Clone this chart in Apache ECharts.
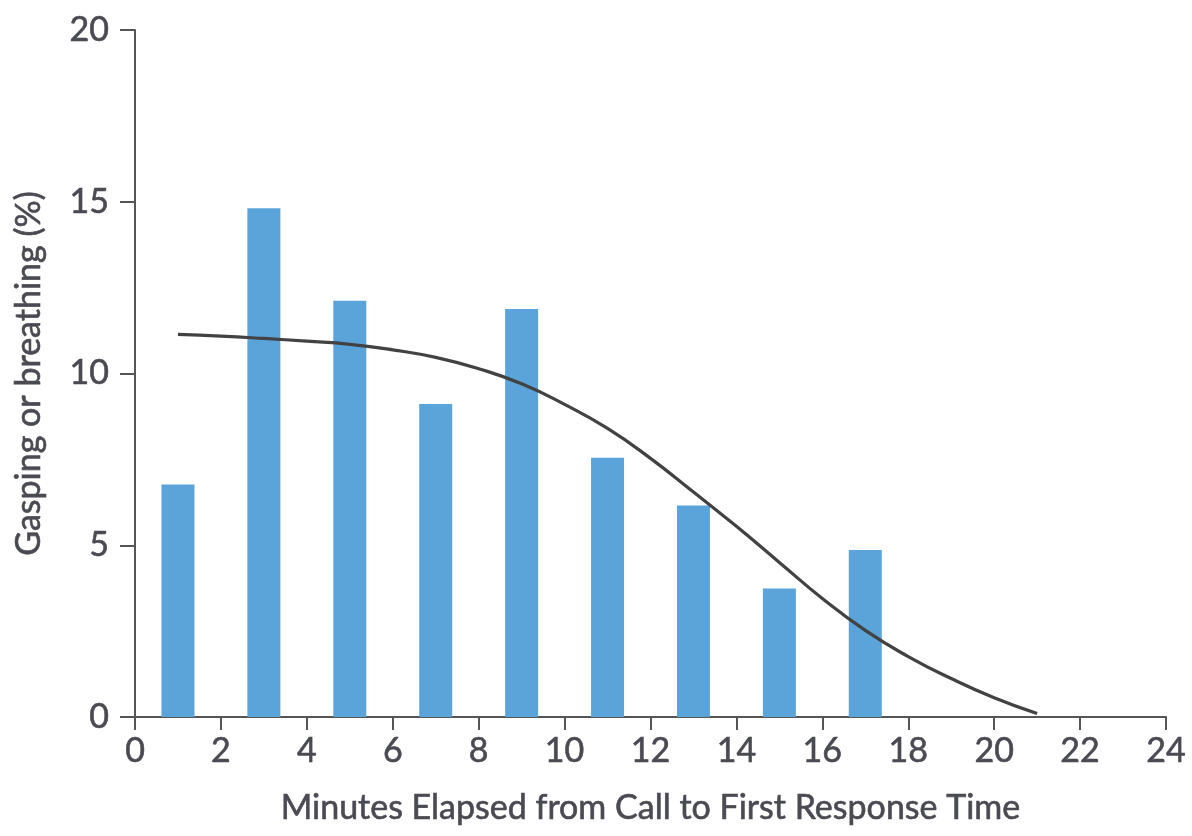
<!DOCTYPE html>
<html>
<head>
<meta charset="utf-8">
<script src="https://cdn.jsdelivr.net/npm/echarts@6/dist/echarts.min.js"></script>
<style>html,body{margin:0;padding:0;background:#fff;}#c{width:1192px;height:836px;}</style>
</head>
<body>
<div id="c"></div>
<script>
var barMinutes = [1, 3, 5, 7, 9, 11, 13, 15, 17];
var barValues = [6.77, 14.81, 12.12, 9.11, 11.88, 7.55, 6.16, 3.74, 4.86];
var curveMinutes = [1, 2, 3, 4, 5, 6, 7, 8, 9, 10, 11, 12, 13, 14, 15, 16, 17, 18, 19, 20, 21];
var curveValues = [11.14, 11.09, 11.02, 10.94, 10.85, 10.69, 10.47, 10.14, 9.7, 9.1, 8.4, 7.53, 6.55, 5.55, 4.5, 3.45, 2.52, 1.76, 1.12, 0.56, 0.1];
var xTitle = 'Minutes Elapsed from Call to First Response Time';
var yTitle = 'Gasping or breathing (%)';

var font = 'Lato, "Liberation Sans", sans-serif';
var textColor = '#4a4a52';
var axisColor = '#555555';
var textBase = { fontFamily: font, fontSize: 34, color: textColor, textBorderColor: textColor, textBorderWidth: 0.6 };

var chart = echarts.init(document.getElementById('c'));
chart.setOption({
  animation: false,
  grid: { left: 135, right: 26, top: 30, bottom: 119, containLabel: false },
  xAxis: {
    type: 'value', min: 0, max: 24, interval: 2,
    name: xTitle, nameLocation: 'middle', nameGap: 74,
    nameTextStyle: textBase,
    axisLine: { show: true, onZero: false, lineStyle: { color: axisColor, width: 2 } },
    axisTick: { show: true, length: 13, lineStyle: { color: axisColor, width: 2 } },
    axisLabel: Object.assign({ margin: 17 }, textBase),
    splitLine: { show: false }
  },
  yAxis: {
    type: 'value', min: 0, max: 20, interval: 5,
    name: yTitle, nameLocation: 'middle', nameGap: 89, nameRotate: 90,
    nameTextStyle: textBase,
    axisLine: { show: true, lineStyle: { color: axisColor, width: 2 } },
    axisTick: { show: true, length: 15, lineStyle: { color: axisColor, width: 2 } },
    axisLabel: Object.assign({ margin: 26 }, textBase),
    splitLine: { show: false }
  },
  series: [
    {
      type: 'bar',
      data: barMinutes.map(function (m, i) { return [m, barValues[i]]; }),
      barWidth: 33,
      itemStyle: { color: '#5ba4da' },
      z: 2
    },
    {
      type: 'line',
      data: curveMinutes.map(function (m, i) { return [m, curveValues[i]]; }),
      smooth: 0.5,
      showSymbol: false,
      symbol: 'none',
      lineStyle: { color: '#424242', width: 3.2 },
      z: 3
    }
  ]
});
</script>
</body>
</html>
